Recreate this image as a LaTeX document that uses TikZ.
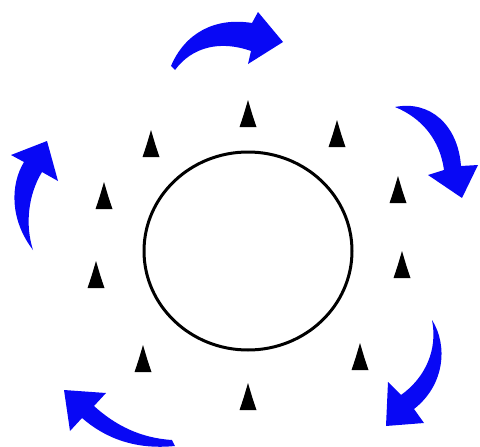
\documentclass[tikz,border=0pt]{standalone}
\usepackage{tikz}
\usetikzlibrary{calc}
\definecolor{swirlblue}{RGB}{8,8,245}

\begin{document}
\begin{tikzpicture}[x=1pt, y=-1pt, swirl/.style={fill=swirlblue}, cone/.style={fill=black}]
        \useasboundingbox (0,0) rectangle (480,447);
        % ring
        \draw[line width=3pt] (248,251) ellipse [x radius=104, y radius=99];
        % cones, base centre given
        \foreach \x/\y in {248/127, 151/157, 337/147, 104/209, 398/203,
                           96/288, 402/278, 143/372, 360/370, 248/410} {
          \fill[cone] (\x-8.5,\y) .. controls (\x-5,\y-10) .. (\x,\y-27)
                      .. controls (\x+5,\y-10) .. (\x+8.5,\y) -- cycle;
        }
        % arrows, clockwise from the top
        \fill[swirl] (171,66) .. controls (185,33) and (215,17) .. (252,23)
          -- (258,12) -- (283,42) -- (248,64) -- (251,51)
          .. controls (220,40) and (192,47) .. (175,70) -- cycle;
        \fill[swirl] (395,107) .. controls (430,100) and (458,125) .. (461,166)
          -- (478,165) -- (462,198) -- (428,175) -- (444,170)
          .. controls (440,140) and (422,118) .. cycle;
        \fill[swirl] (432,320) .. controls (448,345) and (445,385) .. (414,409)
          -- (424,423) -- (386,426) -- (388,382) -- (401,395)
          .. controls (425,378) and (438,350) .. cycle;
        \fill[swirl] (175,446) .. controls (135,450) and (105,438) .. (82,418)
          -- (70,431) -- (64,390) -- (106,393) -- (94,406)
          .. controls (115,425) and (140,438) .. (172,440) -- cycle;
        \fill[swirl] (33,250) .. controls (10,220) and (10,185) .. (24,162)
          -- (11,155) -- (47,141) -- (58,181) -- (42,172)
          .. controls (28,195) and (25,225) .. cycle;
\end{tikzpicture}
\end{document}
